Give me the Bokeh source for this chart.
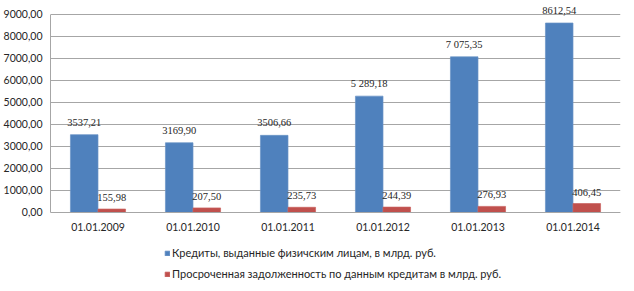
from bokeh.plotting import figure
from bokeh.models import ColumnDataSource, FactorRange, LabelSet, Legend, LegendItem, FixedTicker
from bokeh.transform import dodge
from bokeh.embed import file_html
from bokeh.resources import INLINE

dates = ["01.01.2009", "01.01.2010", "01.01.2011", "01.01.2012", "01.01.2013", "01.01.2014"]
credits = [3537.21, 3169.90, 3506.66, 5289.18, 7075.35, 8612.54]
overdue = [155.98, 207.50, 235.73, 244.39, 276.93, 406.45]
credit_labels = ["3537,21", "3169,90", "3506,66", "5 289,18", "7 075,35", "8612,54"]
overdue_labels = ["155,98", "207,50", "235,73", "244,39", "276,93", "406,45"]
y_ticks = [0, 1000, 2000, 3000, 4000, 5000, 6000, 7000, 8000, 9000]
series_names = ["Кредиты, выданные физичским лицам, в млрд. руб.",
                "Просроченная задолженность по данным кредитам в млрд. руб."]

FONT = "Lato"
TXT = "#262626"

src = ColumnDataSource(dict(date=dates, credits=credits, overdue=overdue,
                            cl=credit_labels, ol=overdue_labels))

# 22 px per 1000; 9000 at y=14 px, 0 at y=212 px, frame spans full 291 px height
p = figure(width=634, height=291, x_range=FactorRange(*dates, range_padding=0),
           y_range=(-3591, 9636), output_backend="svg", toolbar_location=None,
           min_border_left=50, min_border_right=14, min_border_top=0, min_border_bottom=0)
p.outline_line_color = None
p.background_fill_color = "white"
p.border_fill_color = "white"

b1 = p.vbar(x=dodge("date", -0.145, range=p.x_range), top="credits", width=0.29,
            source=src, fill_color="#4F81BD", line_color="#6A93C6", line_width=0.7)
b2 = p.vbar(x=dodge("date", 0.145, range=p.x_range), top="overdue", width=0.29,
            source=src, fill_color="#C0504D", line_color="#C9625F", line_width=0.7)

p.add_layout(LabelSet(x=dodge("date", -0.145, range=p.x_range), y="credits", text="cl",
                      source=src, text_align="center", text_baseline="alphabetic", y_offset=9,
                      text_font=FONT, text_font_size="10.5px", text_color=TXT))
p.add_layout(LabelSet(x=dodge("date", 0.145, range=p.x_range), y="overdue", text="ol",
                      source=src, text_align="center", text_baseline="alphabetic", y_offset=8,
                      text_font=FONT, text_font_size="10.5px", text_color=TXT))

p.yaxis.ticker = FixedTicker(ticks=y_ticks)
p.yaxis.bounds = (0, 9000)
p.yaxis.major_label_overrides = {t: f"{t},00" for t in y_ticks}
p.ygrid.grid_line_color = "#a6a6a6"
p.ygrid.ticker = FixedTicker(ticks=y_ticks)
p.xgrid.grid_line_color = None
p.xaxis.fixed_location = 0
for ax in (p.xaxis, p.yaxis):
    ax.axis_line_color = "#a6a6a6"
    ax.major_tick_line_color = None
    ax.minor_tick_line_color = None
    ax.major_tick_out = 0
    ax.major_tick_in = 0
    ax.minor_tick_out = 0
    ax.minor_tick_in = 0
    ax.major_label_text_font = FONT
    ax.major_label_text_font_size = "10.5px"
    ax.major_label_text_color = TXT
p.yaxis.major_label_standoff = 8
p.xaxis.major_label_standoff = 11

legend = Legend(items=[LegendItem(label=series_names[0], renderers=[b1]),
                       LegendItem(label=series_names[1], renderers=[b2])],
                location=(114, 11), orientation="vertical",
                label_text_font=FONT, label_text_font_size="11px", label_text_color=TXT,
                glyph_width=6, glyph_height=6, label_height=12, spacing=8,
                label_standoff=2, padding=0, margin=0,
                border_line_color=None, background_fill_alpha=0)
p.add_layout(legend, "center")

open("out.html", "w").write(file_html(p, INLINE))
